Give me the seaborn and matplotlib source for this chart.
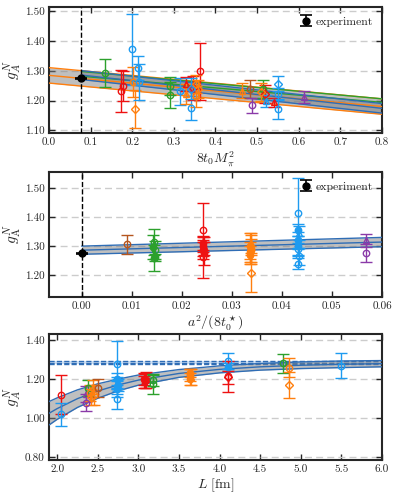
import numpy as np
import pandas as pd
import matplotlib
matplotlib.use("Agg")
import matplotlib.pyplot as plt
import seaborn as sns

# ---------------- data ----------------
# panel 1: g_A vs 8 t0 Mpi^2
p1_x = [0.134, 0.172, 0.178, 0.200, 0.202, 0.207, 0.214, 0.216, 0.290, 0.290, 0.314, 0.340,
        0.328, 0.330, 0.362, 0.346, 0.352, 0.358, 0.354, 0.340, 0.464, 0.482, 0.488, 0.514,
        0.518, 0.510, 0.522, 0.540, 0.549, 0.550, 0.549, 0.612]
p1_y = [1.293, 1.233, 1.248, 1.373, 1.262, 1.172, 1.310, 1.262, 1.250, 1.218, 1.231, 1.175,
        1.256, 1.222, 1.298, 1.242, 1.255, 1.240, 1.215, 1.240, 1.234, 1.239, 1.184, 1.239,
        1.222, 1.230, 1.200, 1.195, 1.257, 1.172, 1.222, 1.211]
p1_e = [0.047, 0.070, 0.050, 0.120, 0.050, 0.065, 0.040, 0.060, 0.030, 0.043, 0.045, 0.040,
        0.025, 0.035, 0.095, 0.040, 0.030, 0.030, 0.035, 0.035, 0.025, 0.030, 0.025, 0.030,
        0.030, 0.030, 0.020, 0.015, 0.025, 0.035, 0.020, 0.020]
p1_beta = ["3.70", "3.55", "3.55", "3.40", "3.46", "3.46", "3.40", "3.40", "3.70", "3.70", "3.40", "3.40",
           "3.55", "3.46", "3.55", "3.55", "3.46", "3.46", "3.46", "3.40", "3.46", "3.85", "3.34", "3.70",
           "3.55", "3.46", "3.40", "3.55", "3.40", "3.40", "3.40", "3.34"]
p1_kind = ["o", "o", "o", "o", "o", "d", "o", "o", "o", "o", "o", "o",
           "t", "t", "o", "d", "d", "d", "o", "d", "t", "o", "o", "o",
           "d", "d", "t", "t", "d", "o", "o", "t"]

# panel 2: g_A vs a^2/(8 t0*)
p2_x = [0.0090,
        0.0145, 0.0143, 0.0146, 0.0145, 0.0147,
        0.0243, 0.0243, 0.0242, 0.0244, 0.0243, 0.0245, 0.0242,
        0.0338, 0.0337, 0.0338, 0.0339, 0.0336, 0.0338, 0.0337,
        0.0433, 0.0433, 0.0434, 0.0432, 0.0433, 0.0433, 0.0434, 0.0433,
        0.0568, 0.0568]
p2_y = [1.3065,
        1.313, 1.297, 1.287, 1.259, 1.262,
        1.357, 1.261, 1.310, 1.300, 1.285, 1.275, 1.300,
        1.206, 1.300, 1.290, 1.285, 1.280, 1.310, 1.270,
        1.415, 1.355, 1.345, 1.320, 1.300, 1.290, 1.265, 1.240,
        1.320, 1.277]
p2_e = [0.032,
        0.045, 0.040, 0.030, 0.045, 0.012,
        0.090, 0.070, 0.025, 0.030, 0.030, 0.040, 0.020,
        0.063, 0.045, 0.050, 0.040, 0.035, 0.035, 0.030,
        0.120, 0.020, 0.025, 0.030, 0.035, 0.020, 0.030, 0.020,
        0.022, 0.030]
p2_beta = ["3.85",
           "3.70", "3.70", "3.70", "3.70", "3.70",
           "3.55", "3.55", "3.55", "3.55", "3.55", "3.55", "3.55",
           "3.46", "3.46", "3.46", "3.46", "3.46", "3.46", "3.46",
           "3.40", "3.40", "3.40", "3.40", "3.40", "3.40", "3.40", "3.40",
           "3.34", "3.34"]
p2_kind = ["o",
           "o", "f", "o", "o", "f",
           "o", "o", "f", "t", "f", "f", "f",
           "d", "f", "f", "f", "f", "t", "f",
           "o", "f", "t", "f", "f", "o", "o", "o",
           "t", "o"]

# panel 3: g_A vs L [fm]
p3_x = [2.05, 2.05, 2.35, 2.35, 2.38, 2.40, 2.42, 2.44, 2.45, 2.50,
        2.74, 2.74, 2.74, 2.74, 2.74, 2.74, 2.75,
        3.07, 3.08, 3.07, 3.09, 3.18, 3.18,
        3.64, 3.64, 3.65, 3.64, 4.11, 4.11, 4.11, 4.11,
        4.78, 4.85, 4.85, 5.49]
p3_y = [1.119, 1.020, 1.124, 1.080, 1.153, 1.130, 1.110, 1.160, 1.120, 1.156,
        1.276, 1.098, 1.200, 1.180, 1.160, 1.150, 1.170,
        1.200, 1.190, 1.185, 1.195, 1.195, 1.173,
        1.230, 1.220, 1.210, 1.200, 1.294, 1.260, 1.209, 1.215,
        1.280, 1.259, 1.170, 1.269]
p3_e = [0.100, 0.060, 0.040, 0.045, 0.040, 0.040, 0.040, 0.035, 0.050, 0.045,
        0.120, 0.050, 0.030, 0.030, 0.035, 0.040, 0.030,
        0.030, 0.035, 0.030, 0.040, 0.030, 0.050,
        0.020, 0.030, 0.040, 0.030, 0.040, 0.020, 0.035, 0.080,
        0.050, 0.050, 0.065, 0.063]
p3_beta = ["3.55", "3.40", "3.34", "3.34", "3.70", "3.46", "3.46", "3.46", "3.46", "3.85",
           "3.40", "3.40", "3.40", "3.40", "3.40", "3.40", "3.40",
           "3.55", "3.55", "3.55", "3.55", "3.70", "3.70",
           "3.46", "3.46", "3.46", "3.46", "3.40", "3.40", "3.55", "3.55",
           "3.70", "3.46", "3.46", "3.40"]
p3_kind = ["o", "o", "t", "o", "o", "o", "d", "t", "o", "o",
           "o", "o", "f", "t", "f", "f", "f",
           "f", "f", "t", "f", "o", "o",
           "f", "f", "t", "f", "o", "f", "d", "o",
           "o", "o", "d", "o"]

# experiment
exp_val, exp_err = 1.2754, 0.0013
phys_x1 = 0.078

# fit bands
b1o_x = [0.0, 0.8]; b1o_c = [1.285, 1.180]; b1o_h = [0.026, 0.026]
b1b_x = [0.078, 0.8]; b1b_c = [1.286, 1.174]; b1b_h = [0.015, 0.016]
b1g_x = [0.078, 0.8]; b1g_c = [1.290, 1.200]; b1g_h = [0.008, 0.006]
b2_x = [0.0, 0.06]; b2_c = [1.286, 1.314]; b2_h = [0.014, 0.016]
b3_x = [1.90, 2.00, 2.25, 2.50, 2.75, 3.00, 3.50, 4.00, 4.50, 5.00, 5.50, 6.00]
b3_c = [1.025, 1.049, 1.100, 1.139, 1.170, 1.195, 1.229, 1.250, 1.263, 1.271, 1.276, 1.279]
b3_h = [0.060, 0.055, 0.045, 0.037, 0.030, 0.026, 0.020, 0.018, 0.017, 0.017, 0.017, 0.016]
inf_c, inf_lo, inf_hi = 1.284, 1.275, 1.293

# ---------------- style ----------------
sns.set_style("ticks")
plt.rcParams["font.family"] = ["serif"]
plt.rcParams["font.serif"] = ["cmr10", "DejaVu Serif"]
plt.rcParams["mathtext.fontset"] = "cm"
plt.rcParams["axes.formatter.use_mathtext"] = True
plt.rcParams["axes.unicode_minus"] = False

colors = {"3.34": "#8a3aa8", "3.40": "#1e9bf0", "3.46": "#ff7f0e",
          "3.55": "#ee1111", "3.70": "#2ca02c", "3.85": "#b5561f"}
markers = {"o": "o", "d": "D", "t": "^", "f": "o"}
band_blue = "#2f6db5"

fig = plt.figure(figsize=(3.99, 5.00), dpi=100)
ax1 = fig.add_axes([0.1228, 0.734, 0.8346, 0.252])
ax2 = fig.add_axes([0.1228, 0.406, 0.8346, 0.250])
ax3 = fig.add_axes([0.1228, 0.080, 0.8346, 0.252])


def draw_points(ax, xs, ys, es, betas, kinds):
    df = pd.DataFrame({"x": xs, "y": ys, "e": es, "beta": betas, "kind": kinds})
    for _, r in df.iterrows():
        c = colors[r.beta]
        mk = markers[r.kind]
        ms = {"o": 4.6, "D": 3.8, "^": 5.0}[mk]
        face = c if r.kind == "f" else "none"
        ax.errorbar(r.x, r.y, yerr=r.e, fmt=mk, color=c, mfc=face, mec=c,
                    ms=ms, mew=1.0, elinewidth=1.0, capsize=4.2, capthick=1.0, zorder=4)


def draw_band(ax, xs, cs, hs, edge, fill="gray", center=True):
    xs = np.asarray(xs); cs = np.asarray(cs); hs = np.asarray(hs)
    if fill != "none":
        ax.fill_between(xs, cs - hs, cs + hs, color=fill, alpha=0.5, lw=0, zorder=2)
    for yy in ([cs - hs, cs + hs] + ([cs] if center else [])):
        sns.lineplot(x=xs, y=yy, ax=ax, color=edge, lw=1.0, zorder=3, legend=False)


def style_axis(ax):
    for s in ax.spines.values():
        s.set_linewidth(1.5)
    ax.tick_params(direction="in", top=True, right=True, length=4, width=1.0,
                   labelsize=8, pad=3)
    ax.grid(axis="y", ls=(0, (5, 3)), color="#cccccc", lw=1.0, zorder=0)
    ax.grid(axis="x", visible=False)
    ax.set_axisbelow(True)


def draw_exp(ax, x):
    h = ax.errorbar(x, exp_val, yerr=exp_err, fmt="o", color="black", ms=5,
                    elinewidth=1.2, capsize=4, capthick=1.2, zorder=6, label="experiment")
    return h


# ---- panel 1 ----
draw_band(ax1, b1o_x, b1o_c, b1o_h, "#ff7f0e", center=True)
draw_band(ax1, b1g_x, b1g_c, b1g_h, "#2ca02c", fill="none", center=False)
draw_band(ax1, b1b_x, b1b_c, b1b_h, band_blue, center=True)
draw_points(ax1, p1_x, p1_y, p1_e, p1_beta, p1_kind)
ax1.axvline(phys_x1, color="black", ls="--", lw=1.0, zorder=5)
draw_exp(ax1, phys_x1)
ax1.set_xlim(0.0, 0.8)
ax1.set_ylim(1.091, 1.515)
ax1.set_xticks(np.arange(0.0, 0.81, 0.1))
ax1.set_yticks(np.arange(1.10, 1.51, 0.10))
ax1.xaxis.set_major_formatter(matplotlib.ticker.FormatStrFormatter("%.1f"))
ax1.yaxis.set_major_formatter(matplotlib.ticker.FormatStrFormatter("%.2f"))
ax1.set_xlabel(r"$8t_0M_\pi^2$", fontsize=10, labelpad=2)
ax1.set_ylabel(r"$g_A^N$", fontsize=11, labelpad=1)
style_axis(ax1)
ax1.legend(loc="upper right", frameon=False, fontsize=8.5, handletextpad=0.2,
           handlelength=1.2, borderaxespad=0.4)

# ---- panel 2 ----
draw_band(ax2, b2_x, b2_c, b2_h, band_blue, center=True)
draw_points(ax2, p2_x, p2_y, p2_e, p2_beta, p2_kind)
ax2.axvline(0.0, color="black", ls="--", lw=1.0, zorder=5)
draw_exp(ax2, 0.0)
ax2.set_xlim(-0.0065, 0.06)
ax2.set_ylim(1.125, 1.555)
ax2.set_xticks(np.arange(0.0, 0.061, 0.01))
ax2.set_yticks(np.arange(1.20, 1.51, 0.10))
ax2.xaxis.set_major_formatter(matplotlib.ticker.FormatStrFormatter("%.2f"))
ax2.yaxis.set_major_formatter(matplotlib.ticker.FormatStrFormatter("%.2f"))
ax2.set_xlabel(r"$a^2/(8t_0^\star)$", fontsize=10, labelpad=2)
ax2.set_ylabel(r"$g_{\rm A}^N$", fontsize=11, labelpad=1)
style_axis(ax2)
ax2.legend(loc="upper right", frameon=False, fontsize=8.5, handletextpad=0.2,
           handlelength=1.2, borderaxespad=0.4)

# ---- panel 3 ----
ax3.axhspan(inf_lo, inf_hi, color="#9cc3ea", alpha=0.5, lw=0, zorder=1)
for yy in (inf_lo, inf_c, inf_hi):
    ax3.axhline(yy, color=band_blue, ls="--", lw=1.0, zorder=2)
draw_band(ax3, b3_x, b3_c, b3_h, band_blue, center=True)
draw_points(ax3, p3_x, p3_y, p3_e, p3_beta, p3_kind)
ax3.set_xlim(1.9, 6.0)
ax3.set_ylim(0.786, 1.431)
ax3.set_xticks(np.arange(2.0, 6.01, 0.5))
ax3.set_yticks(np.arange(0.80, 1.41, 0.20))
ax3.xaxis.set_major_formatter(matplotlib.ticker.FormatStrFormatter("%.1f"))
ax3.yaxis.set_major_formatter(matplotlib.ticker.FormatStrFormatter("%.2f"))
ax3.set_xlabel(r"$L\ [\mathrm{fm}]$", fontsize=10, labelpad=2)
ax3.set_ylabel(r"$g_A^N$", fontsize=11, labelpad=1)
style_axis(ax3)

fig.savefig("out.png", dpi=100)
